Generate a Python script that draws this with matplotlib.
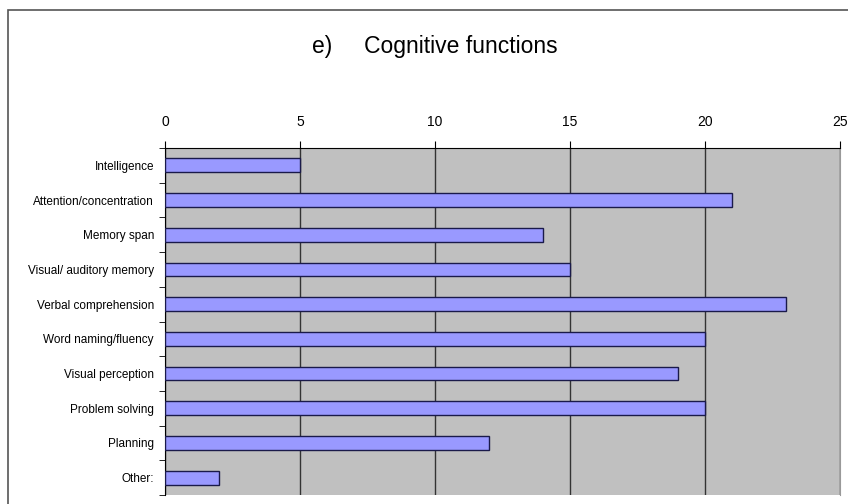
import matplotlib.pyplot as plt
from matplotlib.patches import Rectangle

categories = ['Intelligence', 'Attention/concentration', 'Memory span',
              'Visual/ auditory memory', 'Verbal comprehension',
              'Word naming/fluency', 'Visual perception', 'Problem solving',
              'Planning', 'Other:']
values = [5, 21, 14, 15, 23, 20, 19, 20, 12, 2]
xticks = [0, 5, 10, 15, 20, 25]

plt.rcParams['font.family'] = ['Liberation Sans Narrow', 'Liberation Sans', 'DejaVu Sans']

fig = plt.figure(figsize=(8.48, 5.04), dpi=100)
ax = fig.add_axes([165 / 848, 1 - 495 / 504, 675 / 848, 347 / 504])

ypos = list(range(len(categories)))
ax.barh(ypos, values, height=0.4, color='#9999FF', edgecolor='#1a1a4a',
        linewidth=1.0, zorder=3)

ax.set_facecolor('#C0C0C0')
ax.set_xlim(0, 25)
ax.set_ylim(len(categories) - 0.5, -0.5)

ax.xaxis.tick_top()
ax.set_xticks(xticks)
ax.set_xticklabels([str(t) for t in xticks], fontsize=10)
ax.tick_params(axis='x', direction='out', length=5, pad=9, color='black')
ax.grid(axis='x', color='#333333', linewidth=1.0, zorder=1)

ax.set_yticks(ypos)
ax.set_yticklabels(categories, fontsize=8.5)
ax.set_yticks([i - 0.5 for i in range(len(categories) + 1)], minor=True)
ax.tick_params(axis='y', which='major', length=0, pad=8)
ax.tick_params(axis='y', which='minor', length=4, direction='out', color='black')

ax.spines['top'].set_color('black')
ax.spines['left'].set_color('black')
ax.spines['right'].set_color('#999999')
ax.spines['bottom'].set_visible(False)

fig.text(0.513, 0.908, 'e)     Cognitive functions', ha='center', va='center',
         fontsize=16.5)

border = Rectangle((8 / 848, -0.1), 1.2, 0.98 + 0.1, transform=fig.transFigure,
                   fill=False, edgecolor='#555555', linewidth=1.2)
fig.add_artist(border)

fig.savefig('out.png', dpi=100)
